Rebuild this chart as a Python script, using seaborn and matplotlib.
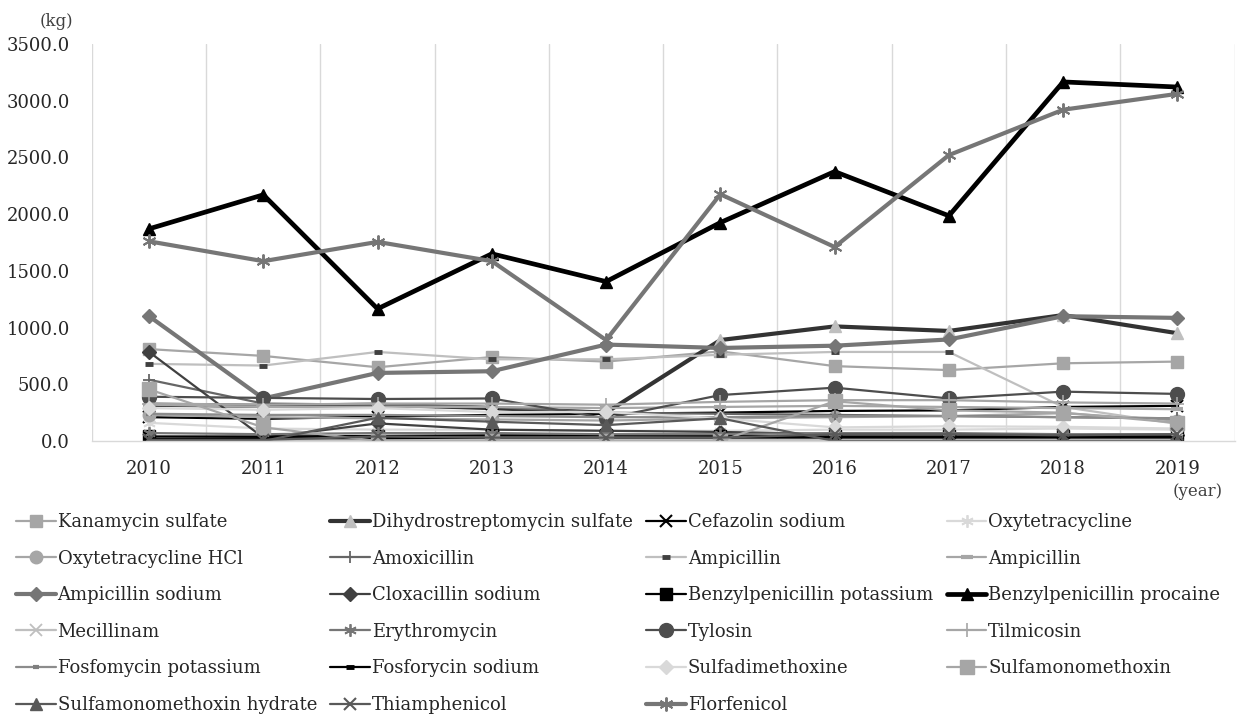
import matplotlib
matplotlib.use("Agg")
import matplotlib.pyplot as plt
import seaborn as sns
import numpy as np
import pandas as pd

# Annual sales of veterinary antimicrobials (kg)
years = [2010, 2011, 2012, 2013, 2014, 2015, 2016, 2017, 2018, 2019]

kanamycin_sulfate = [810, 750, 650, 740, 700, 790, 660, 625, 685, 700]
dihydrostreptomycin_sulfate = [320, 310, 320, 290, 250, 890, 1010, 970, 1110, 950]
cefazolin_sodium = [210, 195, 215, 230, 240, 250, 265, 270, 300, 310]
oxytetracycline = [160, 110, 100, 100, 90, 90, 100, 100, 110, 100]
oxytetracycline_hcl = [230, 210, 200, 190, 180, 200, 210, 220, 245, 180]
amoxicillin = [540, 330, 320, 300, 250, 240, 230, 220, 210, 200]
ampicillin_a = [680, 665, 785, 720, 720, 760, 785, 785, 300, 150]
ampicillin_b = [320, 300, 300, 300, 290, 300, 310, 300, 290, 280]
ampicillin_sodium = [1100, 375, 600, 615, 850, 820, 840, 895, 1100, 1085]
cloxacillin_sodium = [785, 30, 155, 100, 90, 80, 60, 60, 50, 50]
benzylpenicillin_potassium = [40, 40, 45, 50, 50, 45, 40, 40, 40, 40]
benzylpenicillin_procaine = [1870, 2170, 1165, 1650, 1405, 1925, 2375, 1985, 3165, 3120]
mecillinam = [5, 5, 5, 5, 5, 5, 5, 5, 5, 5]
erythromycin = [70, 60, 70, 70, 60, 60, 70, 70, 60, 60]
tylosin = [390, 380, 370, 375, 200, 405, 470, 375, 435, 415]
tilmicosin = [330, 320, 330, 330, 320, 345, 360, 360, 340, 330]
fosfomycin_potassium = [240, 230, 230, 220, 210, 210, 220, 220, 210, 200]
fosforycin_sodium = [20, 25, 25, 30, 30, 30, 30, 30, 30, 30]
sulfadimethoxine = [290, 275, 290, 255, 255, 200, 120, 130, 125, 110]
sulfamonomethoxin = [455, 120, 0, 0, 0, 0, 350, 270, 250, 160]
sulfamonomethoxin_hydrate = [0, 0, 205, 170, 140, 200, 0, 0, 0, 0]
thiamphenicol = [10, 10, 40, 30, 30, 30, 60, 60, 50, 60]
florfenicol = [1760, 1585, 1755, 1585, 890, 2175, 1710, 2520, 2920, 3060]

names = [
    "Kanamycin sulfate", "Dihydrostreptomycin sulfate", "Cefazolin sodium",
    "Oxytetracycline", "Oxytetracycline HCl", "Amoxicillin", "Ampicillin",
    "Ampicillin", "Ampicillin sodium", "Cloxacillin sodium",
    "Benzylpenicillin potassium", "Benzylpenicillin procaine", "Mecillinam",
    "Erythromycin", "Tylosin", "Tilmicosin", "Fosfomycin potassium",
    "Fosforycin sodium", "Sulfadimethoxine", "Sulfamonomethoxin",
    "Sulfamonomethoxin hydrate", "Thiamphenicol", "Florfenicol",
]
series = [
    kanamycin_sulfate, dihydrostreptomycin_sulfate, cefazolin_sodium,
    oxytetracycline, oxytetracycline_hcl, amoxicillin, ampicillin_a,
    ampicillin_b, ampicillin_sodium, cloxacillin_sodium,
    benzylpenicillin_potassium, benzylpenicillin_procaine, mecillinam,
    erythromycin, tylosin, tilmicosin, fosfomycin_potassium,
    fosforycin_sodium, sulfadimethoxine, sulfamonomethoxin,
    sulfamonomethoxin_hydrate, thiamphenicol, florfenicol,
]

AST = (6, 2, 0)  # six-armed asterisk
# (line colour, line width, marker, marker size, marker face, marker edge, edge width)
styles = [
    ("#a6a6a6", 1.6, "s", 9, "#a6a6a6", "#a6a6a6", 1),
    ("#333333", 3.0, "^", 9, "#bfbfbf", "#bfbfbf", 1),
    ("#000000", 1.6, "x", 8, "#000000", "#000000", 1.5),
    ("#d9d9d9", 1.6, AST, 9, "#d9d9d9", "#d9d9d9", 1.3),
    ("#a6a6a6", 1.6, "o", 9, "#a6a6a6", "#a6a6a6", 1),
    ("#666666", 1.6, "+", 9, "#666666", "#666666", 1.3),
    ("#bfbfbf", 1.6, "_", 6, "#404040", "#404040", 3.5),
    ("#a6a6a6", 1.6, "_", 8, "#a6a6a6", "#a6a6a6", 3.0),
    ("#767676", 3.0, "D", 7, "#767676", "#767676", 1),
    ("#404040", 1.6, "D", 7, "#404040", "#404040", 1),
    ("#000000", 1.6, "s", 9, "#000000", "#000000", 1),
    ("#000000", 3.4, "^", 9, "#000000", "#000000", 1),
    ("#bfbfbf", 1.6, "x", 8, "#bfbfbf", "#bfbfbf", 1.3),
    ("#767676", 1.6, AST, 9, "#767676", "#767676", 1.3),
    ("#4d4d4d", 1.6, "o", 10, "#4d4d4d", "#4d4d4d", 1),
    ("#a6a6a6", 1.6, "+", 10, "#a6a6a6", "#a6a6a6", 1.2),
    ("#8c8c8c", 1.6, "_", 5, "#7f7f7f", "#7f7f7f", 3.0),
    ("#000000", 1.6, "_", 6, "#000000", "#000000", 3.5),
    ("#d9d9d9", 1.6, "D", 7, "#d9d9d9", "#d9d9d9", 1),
    ("#a6a6a6", 1.6, "s", 10, "#a6a6a6", "#a6a6a6", 1),
    ("#595959", 1.6, "^", 9, "#595959", "#595959", 1),
    ("#595959", 1.6, "x", 9, "#595959", "#595959", 1.5),
    ("#767676", 3.0, AST, 10, "#767676", "#767676", 1.4),
]

sns.set_theme(style="white")
plt.rcParams["font.family"] = ["DejaVu Serif"]

fig = plt.figure(figsize=(12.42, 7.2), dpi=100)
ax = fig.add_axes([0.074, 0.3875, 0.92, 0.5515])

handles = []
for name, vals, (lc, lw, mk, ms, mfc, mec, mew) in zip(names, series, styles):
    df = pd.DataFrame({"year": years, "kg": vals})
    before = len(ax.lines)
    sns.lineplot(data=df, x="year", y="kg", ax=ax, color=lc, linewidth=lw,
                 marker=mk, markersize=ms, markerfacecolor=mfc,
                 markeredgecolor=mec, markeredgewidth=mew, label=name,
                 legend=False)
    handles.append(ax.lines[before])

ax.set_xlim(2009.5, 2019.5)
ax.set_ylim(0, 3500)
ax.set_xticks(years)
ax.set_xticklabels([str(y) for y in years], fontsize=13)
ax.set_xticks(np.arange(2009.5, 2020, 1.0), minor=True)
yt = np.arange(0, 3501, 500)
ax.set_yticks(yt)
ax.set_yticklabels([f"{v:.1f}" for v in yt], fontsize=13)
ax.grid(False)
ax.grid(which="minor", axis="x", color="#d9d9d9", linewidth=1.0)
ax.set_axisbelow(True)
ax.tick_params(axis="both", which="both", length=0)
ax.tick_params(axis="x", pad=14)
ax.tick_params(axis="y", pad=16)
for s in ["top", "left", "right"]:
    ax.spines[s].set_visible(False)
ax.spines["bottom"].set_color("#d9d9d9")
ax.spines["bottom"].set_linewidth(1.0)
ax.set_xlabel("")
ax.set_ylabel("")

fig.text(56 / 1242, 1 - 21 / 720, "(kg)", ha="center", va="center",
         fontsize=12, color="#404040")
fig.text(1198 / 1242, 1 - 491 / 720, "(year)", ha="center", va="center",
         fontsize=12, color="#404040")

ncol = 4
order = []
for c in range(ncol):
    order.extend(range(c, len(handles), ncol))
leg = fig.legend([handles[i] for i in order], [names[i] for i in order],
                 loc="upper left", bbox_to_anchor=(16 / 1242, 1 - 513 / 720),
                 ncol=ncol, frameon=False, fontsize=13, handlelength=2.2,
                 handletextpad=0.1, columnspacing=0.75, labelspacing=1.03,
                 numpoints=1, borderaxespad=0, borderpad=0)

fig.savefig("out.png", dpi=100)
